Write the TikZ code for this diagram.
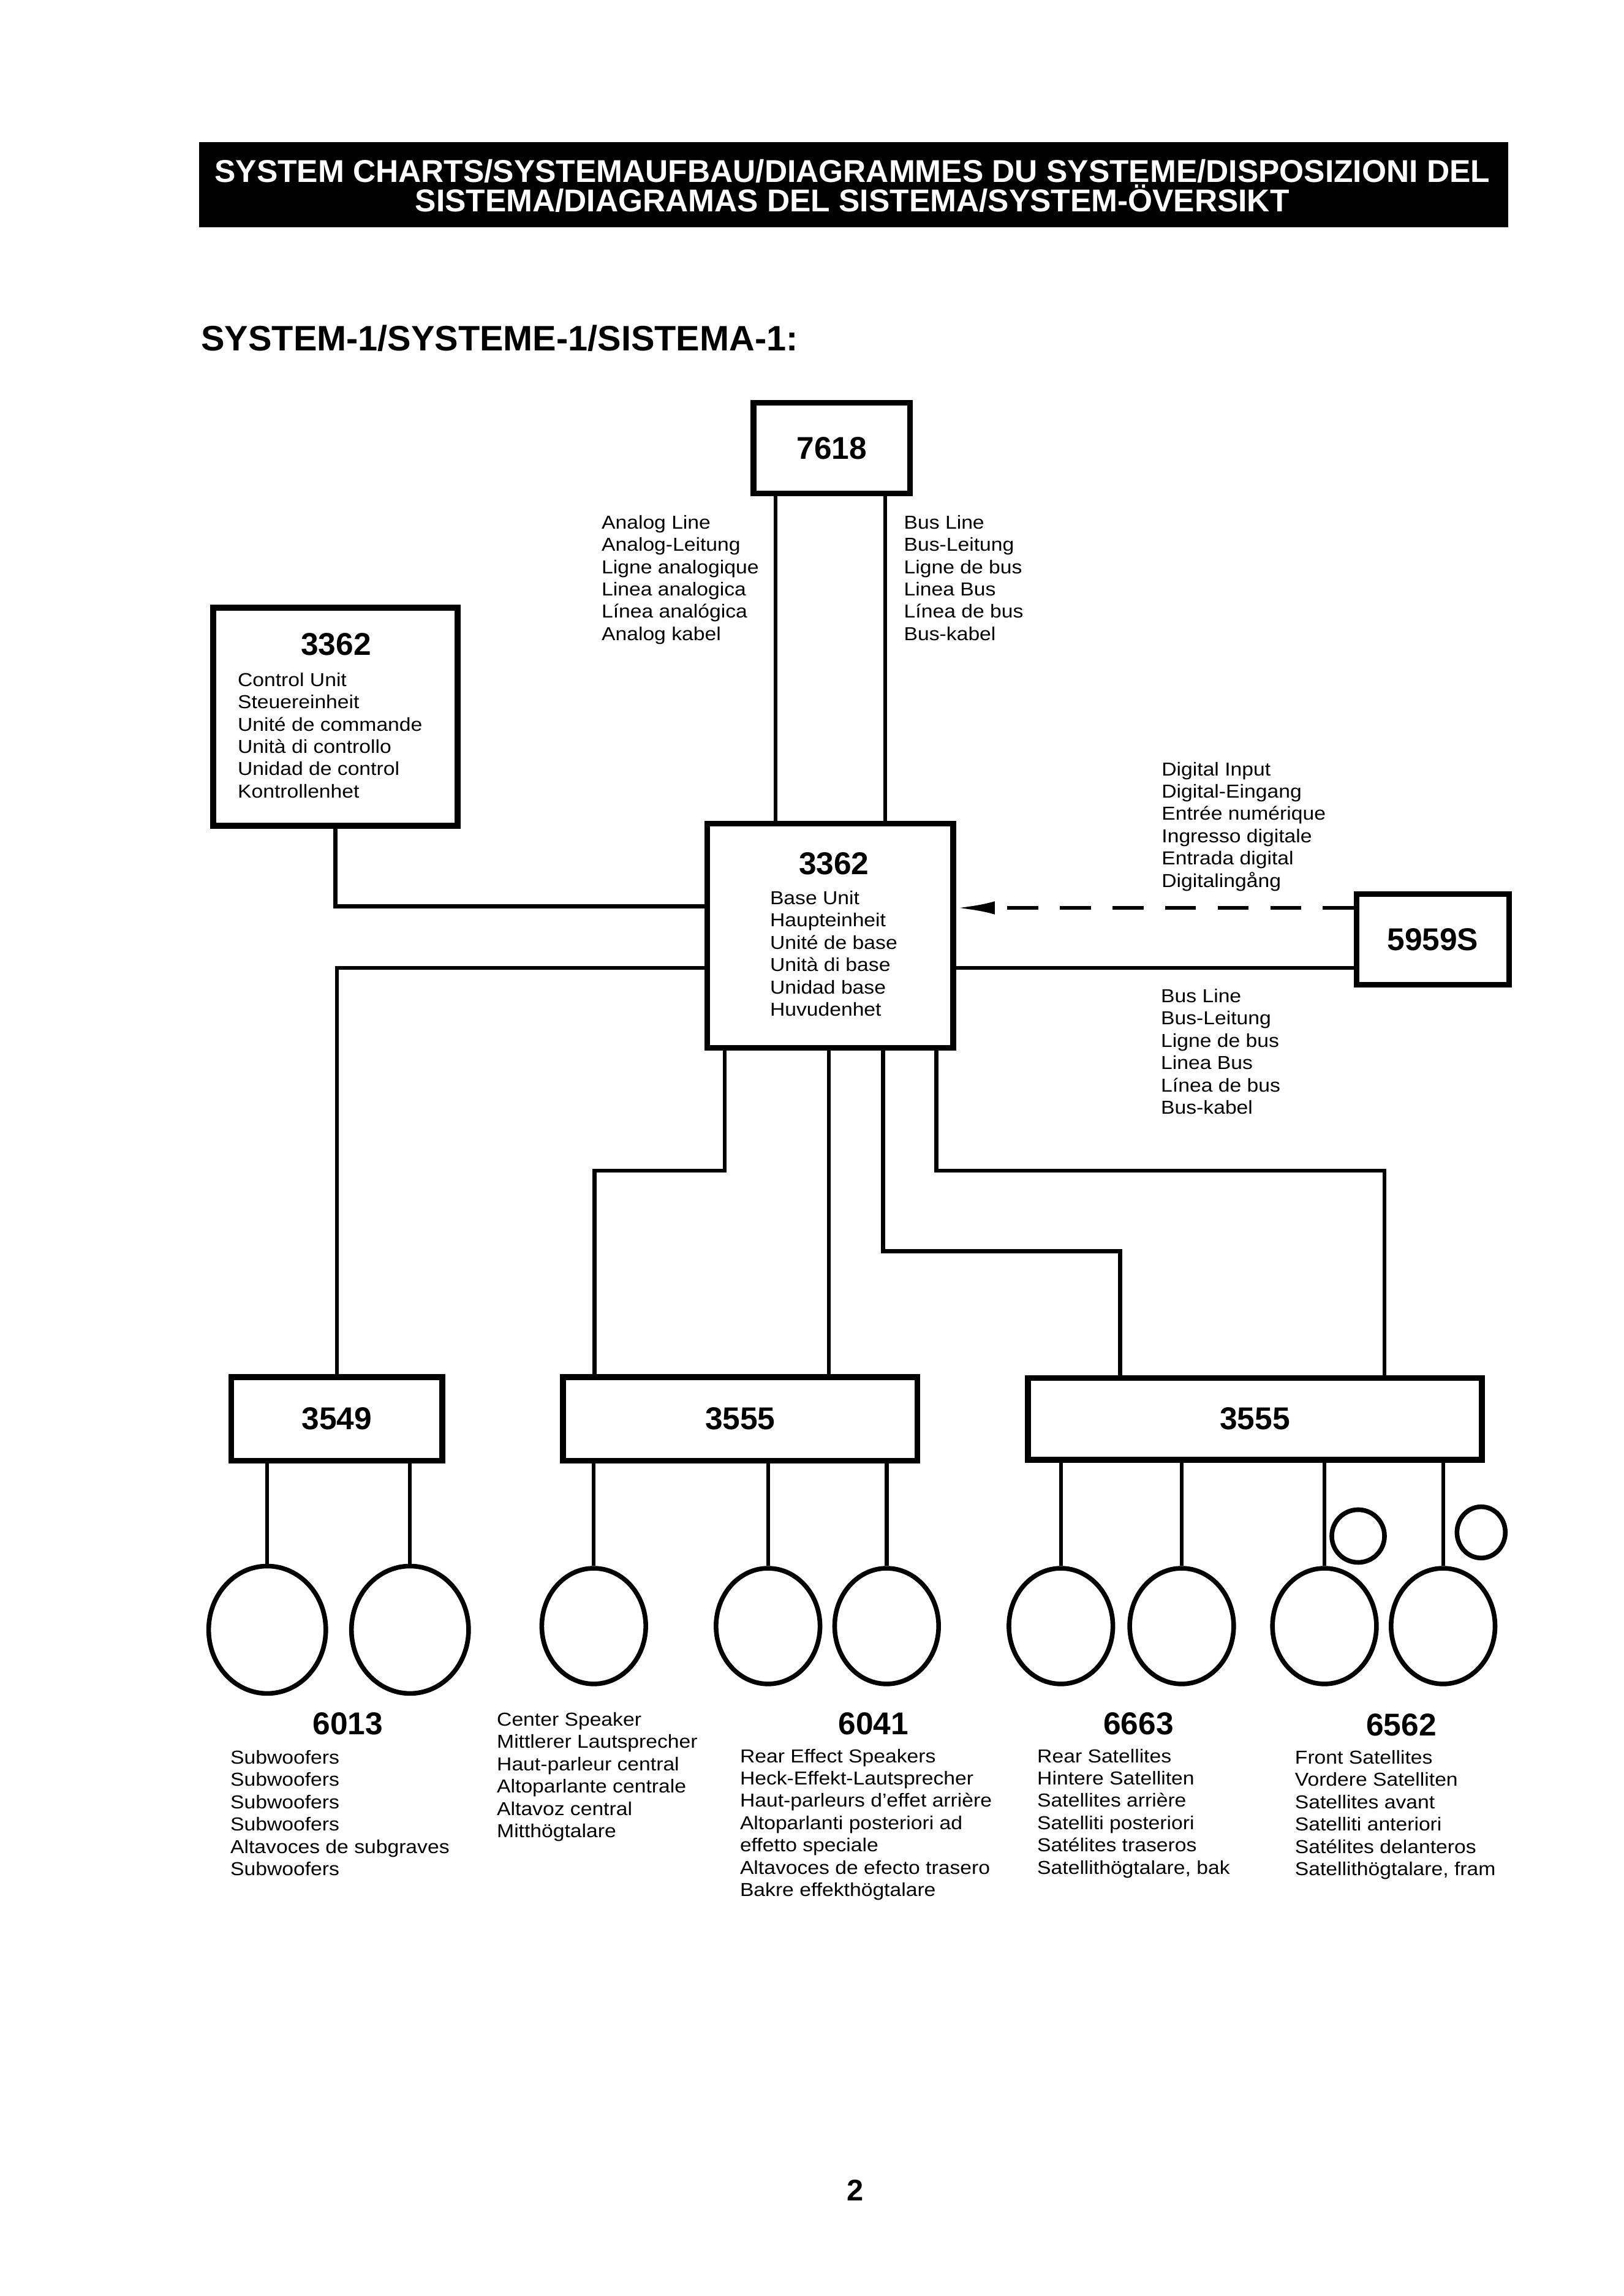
\documentclass[tikz,border=0pt]{standalone}
\usepackage{fontspec}
\setmainfont{Liberation Sans}
\newfontfamily\lblfont[FakeStretch=1.1]{Liberation Sans}
\usetikzlibrary{arrows.meta,positioning,shapes.geometric}
\newcommand{\upx}{0.18936mm}

\begin{document}
\begin{tikzpicture}[x=\upx,y=-\upx,>={Latex[length=5mm,width=1.7mm]},
 unit/.style={draw,line width=.75mm,inner sep=0pt,font=\fontsize{11.6}{12}\selectfont\bfseries},
 num/.style={inner sep=0pt,font=\fontsize{11.6}{12}\selectfont\bfseries},
 wire/.style={line width=.5mm},
 spk/.style={draw,ellipse,line width=.6mm,inner sep=0pt},
 lbl/.style={anchor=north west,inner sep=0pt,align=left,font=\lblfont\fontsize{6.9}{8.21}\selectfont}]
 \useasboundingbox (0,0) rectangle (1109,1568);
 \node[fill=black,inner sep=0pt,minimum width=894*\upx,minimum height=58*\upx] (banner) at (583,126) {};
 \node[text=white,align=center,inner sep=0pt,font=\fontsize{11.6}{10.9}\selectfont\bfseries] (bannertxt) at (582,127)
  {SYSTEM CHARTS/SYSTEMAUFBAU/DIAGRAMMES DU SYSTEME/DISPOSIZIONI DEL\\SISTEMA/DIAGRAMAS DEL SISTEMA/SYSTEM-ÖVERSIKT};
 \node[anchor=west,inner sep=0pt,font=\fontsize{13}{13}\selectfont\bfseries] (sysname) at (137,231) {SYSTEM-1/SYSTEME-1/SISTEMA-1:};

 \node[unit,minimum width=107*\upx,minimum height=62*\upx] (b7618) at (568,306) {7618};
 \node[unit,minimum width=167*\upx,minimum height=149*\upx] (ctrl) at (229,489.5) {};
 \node[num] (ctrlno) at (229.5,440) {3362};
 \node[lbl] (ctrltxt) at (162,459) {Control Unit\\Steuereinheit\\Unité de commande\\Unità di controllo\\Unidad de control\\Kontrollenhet};
 \node[unit,minimum width=168*\upx,minimum height=153*\upx] (base) at (567,639) {};
 \node[num] (baseno) at (569.5,590) {3362};
 \node[lbl] (basetxt) at (525.5,608) {Base Unit\\Haupteinheit\\Unité de base\\Unità di base\\Unidad base\\Huvudenhet};
 \node[unit,minimum width=104*\upx,minimum height=62*\upx] (b5959) at (978.5,641.5) {5959S};
 \node[unit,minimum width=144*\upx,minimum height=57*\upx] (b3549) at (230,969) {3549};
 \node[unit,minimum width=242*\upx,minimum height=57*\upx] (rear) at (505.5,969) {3555};
 \node[unit,minimum width=310*\upx,minimum height=56*\upx] (front) at (857,969) {3555};

 \node[lbl] (analog) at (410.5,351.5) {Analog Line\\Analog-Leitung\\Ligne analogique\\Linea analogica\\Línea analógica\\Analog kabel};
 \node[lbl] (busup) at (617,351.5) {Bus Line\\Bus-Leitung\\Ligne de bus\\Linea Bus\\Línea de bus\\Bus-kabel};
 \node[lbl] (digin) at (793,520) {Digital Input\\Digital-Eingang\\Entrée numérique\\Ingresso digitale\\Entrada digital\\Digitalingång};
 \node[lbl] (buslow) at (792.5,675) {Bus Line\\Bus-Leitung\\Ligne de bus\\Linea Bus\\Línea de bus\\Bus-kabel};

 \draw[wire] (b7618.south -| 529.5,0) -- (base.north -| 529.5,0);
 \draw[wire] (b7618.south -| 604.5,0) -- (base.north -| 604.5,0);
 \draw[wire] (ctrl.south) |- (base.west |- 0,619);
 \draw[wire] (base.west |- 0,661) -| (b3549.north);
 \draw[wire] (b5959.west |- 0,661) -- (base.east |- 0,661);
 \draw[wire,dash pattern=on 4mm off 2.8mm,->] (b5959.west |- 0,620) -- (base.east |- 0,620);
 \draw[wire] (base.south -| 495,0) -- ++(0,82) -| (rear.north -| 406,0);
 \draw[wire] (base.south -| 566,0) -- (rear.north -| 566,0);
 \draw[wire] (base.south -| 603,0) -- ++(0,137) -| (front.north -| 765,0);
 \draw[wire] (base.south -| 639.5,0) -- ++(0,82) -| (front.north -| 945.5,0);

 \foreach \n/\x in {1/182.5,2/280}
  \node[spk,minimum width=80*\upx,minimum height=87*\upx] (s\n) at (\x,1113) {};
 \foreach \n/\x in {3/405.5,4/524.5,5/605.5,6/724.5,7/807,8/904.5,9/985.5}
  \node[spk,minimum width=71*\upx,minimum height=79*\upx] (s\n) at (\x,1110.5) {};
 \node[spk,minimum width=36*\upx,minimum height=36*\upx] (t1) at (927.5,1049) {};
 \node[spk,minimum width=33*\upx,minimum height=35*\upx] (t2) at (1011.5,1046.5) {};
 \foreach \n in {1,2} {\draw[wire] (b3549.south -| s\n.north) -- (s\n.north);}
 \foreach \n in {3,4,5} {\draw[wire] (rear.south -| s\n.north) -- (s\n.north);}
 \foreach \n in {6,...,9} {\draw[wire] (front.south -| s\n.north) -- (s\n.north);}

 \node[num] (n6013) at (237.5,1177) {6013};
 \node[lbl] (l6013) at (157,1195) {Subwoofers\\Subwoofers\\Subwoofers\\Subwoofers\\Altavoces de subgraves\\Subwoofers};
 \node[lbl] (lcenter) at (339,1169) {Center Speaker\\Mittlerer Lautsprecher\\Haut-parleur central\\Altoparlante centrale\\Altavoz central\\Mitthögtalare};
 \node[num] (n6041) at (596.5,1177) {6041};
 \node[lbl] (l6041) at (505,1194) {Rear Effect Speakers\\Heck-Effekt-Lautsprecher\\Haut-parleurs d’effet arrière\\Altoparlanti posteriori ad\\effetto speciale\\Altavoces de efecto trasero\\Bakre effekthögtalare};
 \node[num] (n6663) at (777.5,1177) {6663};
 \node[lbl] (l6663) at (708,1194) {Rear Satellites\\Hintere Satelliten\\Satellites arrière\\Satelliti posteriori\\Satélites traseros\\Satellithögtalare, bak};
 \node[num] (n6562) at (957,1178) {6562};
 \node[lbl] (l6562) at (884,1195) {Front Satellites\\Vordere Satelliten\\Satellites avant\\Satelliti anteriori\\Satélites delanteros\\Satellithögtalare, fram};

 \node[num,font=\fontsize{11}{11}\selectfont\bfseries] (pageno) at (584,1496) {2};
\end{tikzpicture}
\end{document}
